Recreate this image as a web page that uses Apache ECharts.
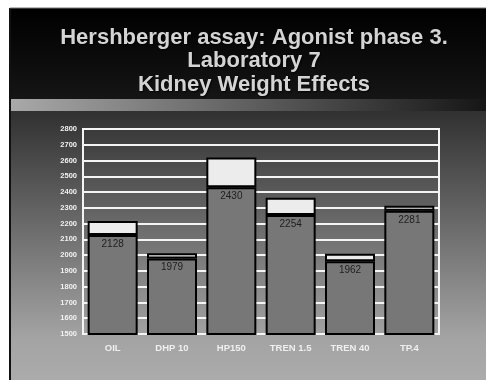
<!DOCTYPE html>
<html>
<head>
<meta charset="utf-8">
<script src="https://cdn.jsdelivr.net/npm/echarts@6/dist/echarts.min.js"></script>
<style>
  html, body { margin: 0; padding: 0; background: #fff; }
  #chart { width: 486px; height: 380px; }
</style>
</head>
<body>
<div id="chart"></div>
<script>
// Kidney weight per treatment group: mean value and top of the upper bar segment
const groups = ['OIL', 'DHP 10', 'HP150', 'TREN 1.5', 'TREN 40', 'TP.4'];
const means = [2128, 1979, 2430, 2254, 1962, 2281];
const upper = [2216, 2012, 2620, 2364, 2009, 2314];
const yTicks = { min: 1500, max: 2800, step: 100 };

const caps = upper.map((u, i) => u - means[i]);

const chart = echarts.init(document.getElementById('chart'), null, { renderer: 'canvas' });

chart.setOption({
  animation: false,
  graphic: [
    // slide background: dark title panel, gradient band, lower panel
    { type: 'rect', z: -10, shape: { x: 10, y: 8, width: 476, height: 91 },
      style: { fill: new echarts.graphic.LinearGradient(0, 0, 0, 1, [
        { offset: 0, color: '#000' }, { offset: 1, color: '#151515' }]) } },
    { type: 'rect', z: -10, shape: { x: 10, y: 99, width: 476, height: 12 },
      style: { fill: new echarts.graphic.LinearGradient(0, 0, 1, 0, [
        { offset: 0, color: '#a9a9a9' }, { offset: 1, color: '#161616' }]) } },
    { type: 'rect', z: -10, shape: { x: 10, y: 111, width: 476, height: 269 },
      style: { fill: new echarts.graphic.LinearGradient(0, 0, 0, 1, [
        { offset: 0, color: '#313131' }, { offset: 0.85, color: '#a4a4a4' }, { offset: 1, color: '#ababab' }]) } },
    { type: 'line', z: -9, shape: { x1: 10, y1: 8, x2: 10, y2: 380 },
      style: { stroke: '#111', lineWidth: 2 } },
    { type: 'line', z: -9, shape: { x1: 10, y1: 8, x2: 486, y2: 8 },
      style: { stroke: '#777', lineWidth: 1 } }
  ],
  title: {
    text: 'Hershberger assay: Agonist phase 3.\nLaboratory 7\nKidney Weight Effects',
    left: 249,
    textAlign: 'center',
    top: 21,
    textStyle: {
      fontFamily: 'Liberation Sans, Arial, sans-serif',
      fontWeight: 'bold',
      fontSize: 22,
      lineHeight: 23.5,
      color: '#d4d4d4',
      textShadowColor: 'rgba(0,0,0,0.9)',
      textShadowBlur: 2,
      textShadowOffsetX: 1,
      textShadowOffsetY: 1
    }
  },
  grid: {
    left: 83, right: 47, top: 129, bottom: 46,
    show: true, borderColor: '#f4f4f4', borderWidth: 2, backgroundColor: 'transparent'
  },
  xAxis: {
    type: 'category',
    data: groups,
    axisLine: { show: false },
    axisTick: { show: false },
    axisLabel: {
      color: '#efefef', fontSize: 9.5, fontWeight: 'bold', margin: 9,
      fontFamily: 'Liberation Sans, Arial, sans-serif'
    }
  },
  yAxis: {
    type: 'value',
    min: yTicks.min, max: yTicks.max, interval: yTicks.step,
    axisLine: { show: true, lineStyle: { color: '#f4f4f4', width: 2 } },
    axisTick: { show: false },
    axisLabel: {
      color: '#f2f2f2', fontSize: 7.5, fontWeight: 'bold', margin: 6,
      fontFamily: 'Liberation Sans, Arial, sans-serif',
      formatter: v => String(v)
    },
    splitLine: { lineStyle: { color: '#f4f4f4', width: 2 } }
  },
  series: [
    {
      type: 'bar', stack: 'w', data: means, barWidth: 50,
      itemStyle: { color: '#777777', borderColor: '#000', borderWidth: 2 },
      label: {
        show: true, position: 'insideTop', distance: 4,
        color: '#1e1e1e', fontSize: 10, fontFamily: 'Liberation Sans, Arial, sans-serif'
      }
    },
    {
      type: 'bar', stack: 'w', data: caps, barWidth: 50,
      itemStyle: { color: '#ececec', borderColor: '#000', borderWidth: 2 }
    }
  ]
});
</script>
</body>
</html>
